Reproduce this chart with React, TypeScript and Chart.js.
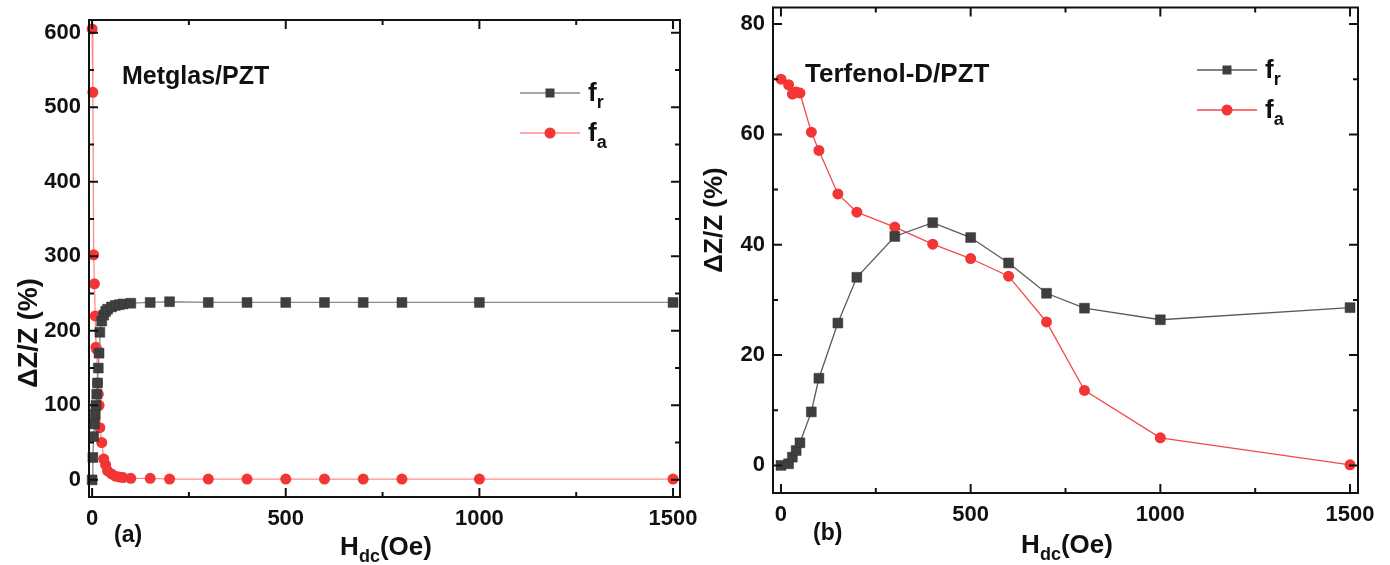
import React, { useEffect, useRef } from "react";
import { Chart, registerables } from "chart.js";

Chart.register(...registerables);

// ---- Data: (a) Metglas/PZT ----
const metglasH = [0, 2, 4, 6, 8, 10, 12, 14, 16, 18, 20, 25, 30, 35, 40, 50, 60, 70, 80, 100, 150, 200, 300, 400, 500, 600, 700, 800, 1000, 1500];
const metglasFr = [0, 30, 58, 75, 88, 100, 115, 130, 150, 170, 198, 213, 221, 226, 229, 232, 234, 235, 236, 237, 238, 239, 238, 238, 238, 238, 238, 238, 238, 238];
const metglasFa = [605, 520, 302, 263, 220, 178, 175, 130, 115, 100, 70, 50, 28, 20, 12, 8, 5, 4, 3, 2, 2, 1, 1, 1, 1, 1, 1, 1, 1, 1];

// ---- Data: (b) Terfenol-D/PZT ----
const terfenolH = [0, 20, 30, 40, 50, 80, 100, 150, 200, 300, 400, 500, 600, 700, 800, 1000, 1500];
const terfenolFr = [0, 0.3, 1.5, 2.7, 4.1, 9.7, 15.8, 25.8, 34.1, 41.5, 44, 41.3, 36.7, 31.2, 28.5, 26.4, 28.6];
const terfenolFa = [70, 69, 67.3, 67.7, 67.5, 60.4, 57.1, 49.2, 45.9, 43.2, 40.1, 37.5, 34.3, 26, 13.6, 5, 0.1];

// ---- Ticks ----
const xMajorTicks = [0, 500, 1000, 1500];
const xMinorTicks = [250, 750, 1250];
const leftYMajorTicks = [0, 100, 200, 300, 400, 500, 600];
const leftYMinorTicks = [50, 150, 250, 350, 450, 550];
const rightYMajorTicks = [0, 20, 40, 60, 80];
const rightYMinorTicks = [10, 30, 50, 70];

const FONT = "'Liberation Sans', Arial, sans-serif";

type PanelSpec = {
  width: number;
  h: number[];
  fr: number[];
  fa: number[];
  xMin: number;
  xMax: number;
  yMin: number;
  yMax: number;
  yMajor: number[];
  yMinor: number[];
  padTop: number;
  padRight: number;
  yAxisWidth: number;
  xAxisHeight: number;
  frLine: string;
  faLine: string;
  label: string;
  labelX: number;
  labelY: number;
  labelSize: number;
  legendX: number;
  legendY: number;
  legendGap: number;
  yTitleX: number;
  yTitleY: number;
  yTitleSize: number;
  xTitleX: number;
  xTitleY: number;
  panelTag: string;
  tagX: number;
  tagY: number;
};

function drawSub(ctx: CanvasRenderingContext2D, x: number, y: number, main: string, sub: string, rest: string, size: number, align: "left" | "center") {
  ctx.save();
  ctx.fillStyle = "#111";
  ctx.textBaseline = "alphabetic";
  ctx.textAlign = "left";
  const mainFont = `bold ${size}px ${FONT}`;
  const subFont = `bold ${Math.round(size * 0.68)}px ${FONT}`;
  ctx.font = mainFont;
  const w1 = ctx.measureText(main).width;
  const w3 = ctx.measureText(rest).width;
  ctx.font = subFont;
  const w2 = ctx.measureText(sub).width;
  const total = w1 + w2 + w3;
  let sx = align === "center" ? x - total / 2 : x;
  ctx.font = mainFont;
  ctx.fillText(main, sx, y);
  sx += w1;
  ctx.font = subFont;
  ctx.fillText(sub, sx, y + size * 0.28);
  sx += w2;
  ctx.font = mainFont;
  ctx.fillText(rest, sx, y);
  ctx.restore();
}

function makePlugin(p: PanelSpec) {
  return {
    id: "decor",
    afterDraw(chart: any) {
      const ctx: CanvasRenderingContext2D = chart.ctx;
      const { left, right, top, bottom } = chart.chartArea;
      const xs = chart.scales.x;
      const ys = chart.scales.y;
      ctx.save();
      ctx.strokeStyle = "#111";
      ctx.lineWidth = 2;
      const tick = (isX: boolean, v: number, len: number) => {
        if (isX) {
          const px = xs.getPixelForValue(v);
          ctx.beginPath();
          ctx.moveTo(px, bottom);
          ctx.lineTo(px, bottom - len);
          ctx.moveTo(px, top);
          ctx.lineTo(px, top + len);
          ctx.stroke();
        } else {
          const py = ys.getPixelForValue(v);
          ctx.beginPath();
          ctx.moveTo(left, py);
          ctx.lineTo(left + len, py);
          ctx.moveTo(right, py);
          ctx.lineTo(right - len, py);
          ctx.stroke();
        }
      };
      xMajorTicks.forEach((v) => tick(true, v, 9));
      xMinorTicks.forEach((v) => tick(true, v, 5));
      p.yMajor.forEach((v) => tick(false, v, 9));
      p.yMinor.forEach((v) => tick(false, v, 5));
      ctx.strokeRect(left, top, right - left, bottom - top);
      ctx.restore();

      ctx.save();
      ctx.fillStyle = "#111";
      ctx.font = `bold ${p.labelSize}px ${FONT}`;
      ctx.textBaseline = "middle";
      ctx.textAlign = "left";
      ctx.fillText(p.label, p.labelX, p.labelY);
      ctx.font = `bold 23px ${FONT}`;
      ctx.fillText(p.panelTag, p.tagX, p.tagY);
      ctx.restore();

      const items = [
        { sub: "r", line: p.frLine, kind: "rect" },
        { sub: "a", line: p.faLine, kind: "circle" },
      ];
      items.forEach((it, i) => {
        const ly = p.legendY + i * p.legendGap;
        ctx.save();
        ctx.strokeStyle = it.line;
        ctx.lineWidth = 1.3;
        ctx.beginPath();
        ctx.moveTo(p.legendX, ly);
        ctx.lineTo(p.legendX + 60, ly);
        ctx.stroke();
        const cx = p.legendX + 30;
        if (it.kind === "rect") {
          ctx.fillStyle = "#3f3f3f";
          ctx.fillRect(cx - 4.5, ly - 4.5, 9, 9);
        } else {
          ctx.fillStyle = "#f23535";
          ctx.beginPath();
          ctx.arc(cx, ly, 5.5, 0, Math.PI * 2);
          ctx.fill();
        }
        ctx.restore();
        drawSub(ctx, p.legendX + 68, ly + 8, "f", it.sub, "", 26, "left");
      });

      ctx.save();
      ctx.translate(p.yTitleX, p.yTitleY);
      ctx.rotate(-Math.PI / 2);
      ctx.fillStyle = "#111";
      ctx.font = `bold ${p.yTitleSize}px ${FONT}`;
      ctx.textAlign = "center";
      ctx.textBaseline = "middle";
      ctx.fillText("\u0394Z/Z (%)", 0, 0);
      ctx.restore();
      drawSub(ctx, p.xTitleX, p.xTitleY, "H", "dc", "(Oe)", 26, "center");
    },
  };
}

function Panel({ p }: { p: PanelSpec }) {
  const ref = useRef<HTMLCanvasElement | null>(null);
  useEffect(() => {
    if (!ref.current) return;
    const toPts = (ys: number[]) => p.h.map((x, i) => ({ x, y: ys[i] }));
    const chart = new Chart(ref.current, {
      type: "scatter",
      data: {
        datasets: [
          {
            label: "fr",
            data: toPts(p.fr),
            showLine: true,
            borderColor: p.frLine,
            borderWidth: 1.3,
            backgroundColor: "#3f3f3f",
            pointBackgroundColor: "#3f3f3f",
            pointBorderColor: "#333",
            pointBorderWidth: 0.5,
            pointStyle: "rect",
            pointRadius: 7,
            clip: false,
          },
          {
            label: "fa",
            data: toPts(p.fa),
            showLine: true,
            borderColor: p.faLine,
            borderWidth: 1.3,
            backgroundColor: "#f23535",
            pointBackgroundColor: "#f23535",
            pointBorderColor: "#f23535",
            pointBorderWidth: 0,
            pointStyle: "circle",
            pointRadius: 5.5,
            clip: false,
          },
        ],
      },
      options: {
        animation: false,
        responsive: false,
        devicePixelRatio: 1,
        layout: { padding: { top: p.padTop, right: p.padRight, left: 0, bottom: 0 } },
        plugins: { legend: { display: false }, tooltip: { enabled: false } },
        scales: {
          x: {
            type: "linear",
            min: p.xMin,
            max: p.xMax,
            afterBuildTicks: (s: any) => {
              s.ticks = xMajorTicks.map((v) => ({ value: v }));
            },
            afterFit: (s: any) => {
              s.height = p.xAxisHeight;
              s.paddingLeft = 0;
              s.paddingRight = 0;
            },
            grid: { display: false, drawTicks: false },
            border: { display: false },
            ticks: {
              color: "#111",
              padding: 9,
              maxRotation: 0,
              callback: (v: any) => String(v),
              font: { family: FONT, size: 22, weight: "bold" },
            },
          },
          y: {
            type: "linear",
            min: p.yMin,
            max: p.yMax,
            afterBuildTicks: (s: any) => {
              s.ticks = p.yMajor.map((v) => ({ value: v }));
            },
            afterFit: (s: any) => {
              s.width = p.yAxisWidth;
              s.paddingTop = 0;
              s.paddingBottom = 0;
            },
            grid: { display: false, drawTicks: false },
            border: { display: false },
            ticks: {
              color: "#111",
              padding: 8,
              callback: (v: any) => String(v),
              font: { family: FONT, size: 22, weight: "bold" },
            },
          },
        },
      },
      plugins: [makePlugin(p)],
    } as any);
    return () => chart.destroy();
  }, [p]);
  return <canvas ref={ref} width={p.width} height={565} style={{ display: "block", width: p.width, height: 565 }} />;
}

const leftPanel: PanelSpec = {
  width: 700,
  h: metglasH,
  fr: metglasFr,
  fa: metglasFa,
  xMin: -8,
  xMax: 1518,
  yMin: -23,
  yMax: 617,
  yMajor: leftYMajorTicks,
  yMinor: leftYMinorTicks,
  padTop: 20,
  padRight: 20,
  yAxisWidth: 89,
  xAxisHeight: 68,
  frLine: "#8a8a8a",
  faLine: "#ff8c8c",
  label: "Metglas/PZT",
  labelX: 122,
  labelY: 77,
  labelSize: 25,
  legendX: 520,
  legendY: 93,
  legendGap: 40,
  yTitleX: 30,
  yTitleY: 333,
  yTitleSize: 27,
  xTitleX: 386,
  xTitleY: 555,
  panelTag: "(a)",
  tagX: 114,
  tagY: 536,
};

const rightPanel: PanelSpec = {
  width: 690,
  h: terfenolH,
  fr: terfenolFr,
  fa: terfenolFa,
  xMin: -21,
  xMax: 1521,
  yMin: -5,
  yMax: 83,
  yMajor: rightYMajorTicks,
  yMinor: rightYMinorTicks,
  padTop: 5,
  padRight: 32,
  yAxisWidth: 73,
  xAxisHeight: 72,
  frLine: "#5a5a5a",
  faLine: "#f24a4a",
  label: "Terfenol-D/PZT",
  labelX: 105,
  labelY: 75,
  labelSize: 26,
  legendX: 497,
  legendY: 70,
  legendGap: 40,
  yTitleX: 15,
  yTitleY: 220,
  yTitleSize: 26,
  xTitleX: 367,
  xTitleY: 553,
  panelTag: "(b)",
  tagX: 113,
  tagY: 534,
};

export default function App() {
  return (
    <div style={{ position: "absolute", left: 0, top: 0, width: 1390, height: 565, background: "#fff", display: "flex" }}>
      <Panel p={leftPanel} />
      <Panel p={rightPanel} />
    </div>
  );
}
